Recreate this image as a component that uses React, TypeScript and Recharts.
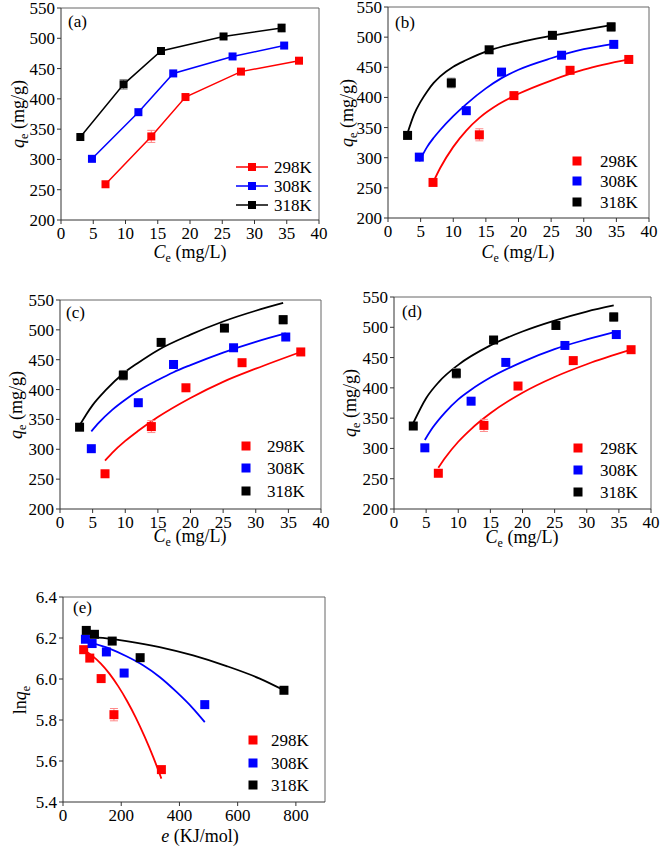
import React from 'react';
import { ComposedChart, Line, Scatter, XAxis, YAxis, ReferenceLine, ErrorBar, Legend } from 'recharts';

const FONT = '"Liberation Serif", "Times New Roman", Times, serif';

const TEMPS = ['298K', '308K', '318K'];
const COLORS = ['#ff0000', '#0000ff', '#000000'];
const ERR_COLORS = ['#ff8a8a', '#8a8aff', '#8a8a8a'];

// Experimental isotherm data: Ce (mg/L), qe (mg/g)
const CE_298 = [6.9, 14.0, 19.3, 27.9, 36.9];
const QE_298 = [259, 338, 403, 445, 463];
const ERR_298 = [null, 10, null, null, null];
const CE_308 = [4.8, 12.0, 17.4, 26.6, 34.6];
const QE_308 = [301, 378, 442, 470, 488];
const ERR_308 = [4, null, null, null, null];
const CE_318 = [3.0, 9.7, 15.5, 25.2, 34.2];
const QE_318 = [337, 424, 479, 503, 517];
const ERR_318 = [null, 8, null, null, 7];

// (b) fitted curves
const B_X_298 = [6.9, 8, 10, 12, 14, 17, 20, 25, 30, 36.9];
const B_Y_298 = [259, 283, 318, 345, 366, 389, 406, 428, 446, 463];
const B_X_308 = [4.8, 6, 7, 8, 10, 12, 15, 17.4, 20, 25, 30, 34.6];
const B_Y_308 = [294, 318, 333, 346, 369, 389, 415, 432, 446, 465, 480, 489];
const B_X_318 = [3, 4, 5, 6, 7, 8, 10, 12, 15.5, 20, 25, 30, 34.2];
const B_Y_318 = [341, 372, 393, 410, 424, 435, 451, 462, 478, 491, 502, 512, 520];

// (c) fitted curves
const C_X_298 = [6.9, 8, 10, 12, 15, 20, 25, 30, 36.9];
const C_Y_298 = [281, 294, 314, 331, 354, 386, 413, 435, 463];
const C_X_308 = [4.8, 6, 8, 10, 12, 15, 17.4, 20, 25, 30, 34.6];
const C_Y_308 = [330, 345, 366, 383, 398, 416, 429, 441, 462, 480, 494];
const C_X_318 = [3, 4, 5, 7, 9.7, 12, 15, 20, 25, 30, 34.2];
const C_Y_318 = [340, 358, 374, 399, 427, 445, 466, 492, 514, 532, 545];

// (d) fitted curves
const D_X_298 = [6.9, 8, 10, 12, 15, 20, 25, 30, 36.9];
const D_Y_298 = [268, 285, 311, 332, 358, 392, 418, 439, 463];
const D_X_308 = [4.8, 6, 8, 10, 12, 15, 20, 25, 30, 34.6];
const D_Y_308 = [314, 334, 360, 381, 397, 417, 443, 464, 480, 493];
const D_X_318 = [3, 5, 7, 10, 15, 20, 25, 30, 34.2];
const D_Y_318 = [342, 383, 410, 438, 470, 493, 511, 526, 536];

// (e) D-R data: e (KJ/mol), ln qe
const E_X_298 = [71, 92, 131, 175, 338];
const E_Y_298 = [6.143, 6.102, 6.002, 5.826, 5.558];
const E_ERR_298 = [null, null, null, 0.03, null];
const E_X_308 = [77, 100, 149, 210, 487];
const E_Y_308 = [6.194, 6.173, 6.132, 6.029, 5.875];
const E_X_318 = [80, 108, 169, 265, 759];
const E_Y_318 = [6.237, 6.218, 6.185, 6.104, 5.945];
const EF_X_298 = [71, 100, 130, 160, 190, 220, 250, 280, 310, 338];
const EF_Y_298 = [6.143, 6.114, 6.075, 6.025, 5.964, 5.893, 5.812, 5.72, 5.619, 5.514];
const EF_X_308 = [76, 100, 160, 218, 275, 332, 390, 447, 487];
const EF_Y_308 = [6.197, 6.178, 6.148, 6.111, 6.067, 6.010, 5.937, 5.856, 5.790];
const EF_X_318 = [80, 150, 218, 332, 447, 562, 676, 759];
const EF_Y_318 = [6.208, 6.198, 6.185, 6.156, 6.115, 6.063, 6.002, 5.945];

// Axis ticks
const CE_TICKS = [0, 5, 10, 15, 20, 25, 30, 35, 40];
const CE_MINOR = [2.5, 7.5, 12.5, 17.5, 22.5, 27.5, 32.5, 37.5];
const QE_TICKS = [200, 250, 300, 350, 400, 450, 500, 550];
const QE_MINOR = [225, 275, 325, 375, 425, 475, 525];
const E_TICKS = [0, 200, 400, 600, 800];
const E_MINOR = [100, 300, 500, 700, 900];
const LNQ_TICKS = [5.4, 5.6, 5.8, 6.0, 6.2, 6.4];
const LNQ_MINOR = [5.5, 5.7, 5.9, 6.1, 6.3];

type Pt = { x: number; y: number; err: number | null };
const pts = (xs: number[], ys: number[], es?: (number | null)[]): Pt[] =>
  xs.map((x, i) => ({ x, y: ys[i], err: es ? es[i] : null }));

const EXP = [pts(CE_298, QE_298, ERR_298), pts(CE_308, QE_308, ERR_308), pts(CE_318, QE_318, ERR_318)];
const FIT_B = [pts(B_X_298, B_Y_298), pts(B_X_308, B_Y_308), pts(B_X_318, B_Y_318)];
const FIT_C = [pts(C_X_298, C_Y_298), pts(C_X_308, C_Y_308), pts(C_X_318, C_Y_318)];
const FIT_D = [pts(D_X_298, D_Y_298), pts(D_X_308, D_Y_308), pts(D_X_318, D_Y_318)];
const EXP_E = [pts(E_X_298, E_Y_298, E_ERR_298), pts(E_X_308, E_Y_308), pts(E_X_318, E_Y_318)];
const FIT_E = [pts(EF_X_298, EF_Y_298), pts(EF_X_308, EF_Y_308), pts(EF_X_318, EF_Y_318)];

const AXIS = '#333';
const FRAME = '#666';
const TICK_FONT = { fill: '#000', fontSize: 17 };

const CSS = `
.fig, .fig svg, .fig text, .fig tspan, .fig .recharts-text, .fig .recharts-cartesian-axis-tick-value {
  font-family: "Liberation Serif", "Times New Roman", Times, serif !important;
}
`;

const squareShape = (color: string, s: number) => (p: any) => (
  <rect key={`sq-${p.index}`} x={p.cx - s / 2} y={p.cy - s / 2} width={s} height={s} fill={color} />
);

type LegendCfg = { mx: number; rows: number[]; tx: number; withLine: boolean };

type PanelProps = {
  left: number; top: number; width: number; height: number;
  plot: [number, number, number, number];
  xDomain: [number, number]; xTicks: number[]; xMinor: number[];
  yDomain: [number, number]; yTicks: number[]; yMinor: number[];
  yFmt?: (v: number) => string;
  tag: string; tagPos: [number, number];
  xTitle: React.ReactNode; xTitlePos: [number, number];
  yTitle: React.ReactNode; yTitlePos: [number, number];
  legend: LegendCfg;
  children?: React.ReactNode;
};

function Panel(p: PanelProps) {
  const [x0, y0, x1, y1] = p.plot;
  const margin = { top: y0 - p.top, right: p.left + p.width - x1, bottom: 0, left: 0 };
  const yAxisW = x0 - p.left;
  const xAxisH = p.top + p.height - y1;
  const lg = p.legend;
  const ox = lg.mx - 24;
  const oy = lg.rows[0] - 14;

  const xTitleContent = () => (
    <text x={p.xTitlePos[0] - p.left} y={p.xTitlePos[1] - p.top} textAnchor="middle"
      fontSize={18} fill="#000">{p.xTitle}</text>
  );
  const yTitleContent = () => {
    const cx = p.yTitlePos[0] - p.left;
    const cy = p.yTitlePos[1] - p.top;
    return (
      <text x={cx} y={cy} transform={`rotate(-90 ${cx} ${cy})`} textAnchor="middle"
        fontSize={18} fill="#000">{p.yTitle}</text>
    );
  };
  const legendContent = () => (
    <svg width={110} height={70} style={{ overflow: 'visible', display: 'block' }}>
      {TEMPS.map((t, i) => {
        const cy = lg.rows[i] - oy;
        const cx = lg.mx - ox;
        const s = lg.withLine ? 8 : 9;
        return (
          <g key={t}>
            {lg.withLine && <line x1={cx - 16} x2={cx + 16} y1={cy} y2={cy} stroke={COLORS[i]} strokeWidth={1.5} />}
            <rect x={cx - s / 2} y={cy - s / 2} width={s} height={s} fill={COLORS[i]} />
            <text x={lg.tx - ox} y={cy + 6} fontSize={17} fill="#000">{t}</text>
          </g>
        );
      })}
    </svg>
  );

  return (
    <div style={{ position: 'absolute', left: p.left, top: p.top, width: p.width, height: p.height }}>
      <ComposedChart width={p.width} height={p.height} margin={margin}>
        <XAxis dataKey="x" type="number" domain={p.xDomain} ticks={p.xTicks} allowDataOverflow interval={0}
          height={xAxisH} tickSize={4} tickMargin={3} stroke={AXIS} tick={TICK_FONT}
          label={{ content: xTitleContent }} />
        <XAxis xAxisId="minor" dataKey="x" type="number" domain={p.xDomain} ticks={p.xMinor} allowDataOverflow
          interval={0} mirror height={0} tick={false} axisLine={false} tickSize={3} stroke={AXIS} />
        <YAxis dataKey="y" type="number" domain={p.yDomain} ticks={p.yTicks} allowDataOverflow interval={0}
          width={yAxisW} tickSize={4} tickMargin={2} stroke={AXIS} tick={TICK_FONT}
          tickFormatter={p.yFmt} label={{ content: yTitleContent }} />
        <YAxis yAxisId="minor" dataKey="y" type="number" domain={p.yDomain} ticks={p.yMinor} allowDataOverflow
          interval={0} mirror width={0} tick={false} axisLine={false} tickSize={3} stroke={AXIS} />
        <ReferenceLine y={p.yDomain[1]} stroke={FRAME} strokeWidth={1} />
        <ReferenceLine x={p.xDomain[1]} stroke={FRAME} strokeWidth={1} />
        {p.children}
        <Legend layout="vertical" align="center" verticalAlign="middle" content={legendContent}
          wrapperStyle={{ left: ox - p.left, top: oy - p.top, width: 110, height: 70 }} />
      </ComposedChart>
      <div style={{ position: 'absolute', left: p.tagPos[0] - p.left, top: p.tagPos[1] - p.top - 9,
        fontSize: 17, lineHeight: '18px', color: '#000' }}>{p.tag}</div>
    </div>
  );
}

const fitLines = (fits: Pt[][], prefix: string) =>
  fits.map((d, i) => (
    <Line key={`${prefix}-fit-${i}`} data={d} dataKey="y" type="monotone" stroke={COLORS[i]} strokeWidth={1.8}
      dot={false} activeDot={false} isAnimationActive={false} />
  ));

const scatters = (sets: Pt[][], prefix: string) =>
  sets.map((d, i) => (
    <Scatter key={`${prefix}-sc-${i}`} data={d} dataKey="y" fill={COLORS[i]} shape={squareShape(COLORS[i], 9)}
      isAnimationActive={false}>
      <ErrorBar dataKey="err" direction="y" stroke={ERR_COLORS[i]} width={4} strokeWidth={1} />
    </Scatter>
  ));

const ceTitle = (
  <>
    <tspan fontStyle="italic">C</tspan>
    <tspan dy={4} fontSize={12}>e</tspan>
    <tspan dy={-4}> (mg/L)</tspan>
  </>
);
const qeTitle = (
  <>
    <tspan fontStyle="italic">q</tspan>
    <tspan dy={4} fontSize={12}>e</tspan>
    <tspan dy={-4}> (mg/g)</tspan>
  </>
);
const lnqTitle = (
  <>
    <tspan>ln</tspan>
    <tspan fontStyle="italic">q</tspan>
    <tspan dy={4} fontSize={12}>e</tspan>
  </>
);
const eTitle = (
  <>
    <tspan fontStyle="italic">e</tspan>
    <tspan> (KJ/mol)</tspan>
  </>
);

const isoAxes = {
  xDomain: [0, 40] as [number, number], xTicks: CE_TICKS, xMinor: CE_MINOR,
  yDomain: [200, 550] as [number, number], yTicks: QE_TICKS, yMinor: QE_MINOR,
  xTitle: ceTitle, yTitle: qeTitle,
};

export default function App() {
  return (
    <div className="fig" style={{ position: 'absolute', left: 0, top: 0, width: 661, height: 851, background: '#fff', fontFamily: FONT }}>
      <style>{CSS}</style>
      <Panel left={0} top={0} width={330} height={280} plot={[61, 8, 319, 220]} {...isoAxes}
        tag="(a)" tagPos={[68, 22]} xTitlePos={[190, 258]} yTitlePos={[24, 114]}
        legend={{ mx: 252, rows: [167, 186, 205], tx: 274, withLine: true }}>
        {EXP.map((d, i) => (
          <Line key={`a-${i}`} data={d} dataKey="y" type="linear" stroke={COLORS[i]} strokeWidth={1.5}
            dot={squareShape(COLORS[i], 8)} activeDot={false} isAnimationActive={false}>
            <ErrorBar dataKey="err" stroke={ERR_COLORS[i]} width={4} strokeWidth={1} />
          </Line>
        ))}
      </Panel>
      <Panel left={330} top={0} width={331} height={280} plot={[388, 7, 649, 218]} {...isoAxes}
        tag="(b)" tagPos={[395, 23]} xTitlePos={[518, 258]} yTitlePos={[353, 113]}
        legend={{ mx: 577, rows: [161, 181, 202], tx: 600, withLine: false }}>
        {fitLines(FIT_B, 'b')}
        {scatters(EXP, 'b')}
      </Panel>
      <Panel left={0} top={280} width={330} height={280} plot={[60, 300, 321, 509]} {...isoAxes}
        tag="(c)" tagPos={[66, 313]} xTitlePos={[190, 542]} yTitlePos={[22, 405]}
        legend={{ mx: 246, rows: [446, 468, 491], tx: 267, withLine: false }}>
        {fitLines(FIT_C, 'c')}
        {scatters(EXP, 'c')}
      </Panel>
      <Panel left={330} top={280} width={331} height={280} plot={[394, 297, 651, 509]} {...isoAxes}
        tag="(d)" tagPos={[402, 312]} xTitlePos={[522, 543]} yTitlePos={[356, 403]}
        legend={{ mx: 578, rows: [448, 470, 492], tx: 600, withLine: false }}>
        {fitLines(FIT_D, 'd')}
        {scatters(EXP, 'd')}
      </Panel>
      <Panel left={0} top={560} width={330} height={291} plot={[63, 597, 325, 802]}
        xDomain={[0, 900]} xTicks={E_TICKS} xMinor={E_MINOR}
        yDomain={[5.4, 6.4]} yTicks={LNQ_TICKS} yMinor={LNQ_MINOR} yFmt={(v: number) => v.toFixed(1)}
        tag="(e)" tagPos={[73, 608]} xTitle={eTitle} xTitlePos={[200, 842]} yTitle={lnqTitle} yTitlePos={[26, 700]}
        legend={{ mx: 253, rows: [740, 763, 785], tx: 271, withLine: false }}>
        {fitLines(FIT_E, 'e')}
        {scatters(EXP_E, 'e')}
      </Panel>
    </div>
  );
}
